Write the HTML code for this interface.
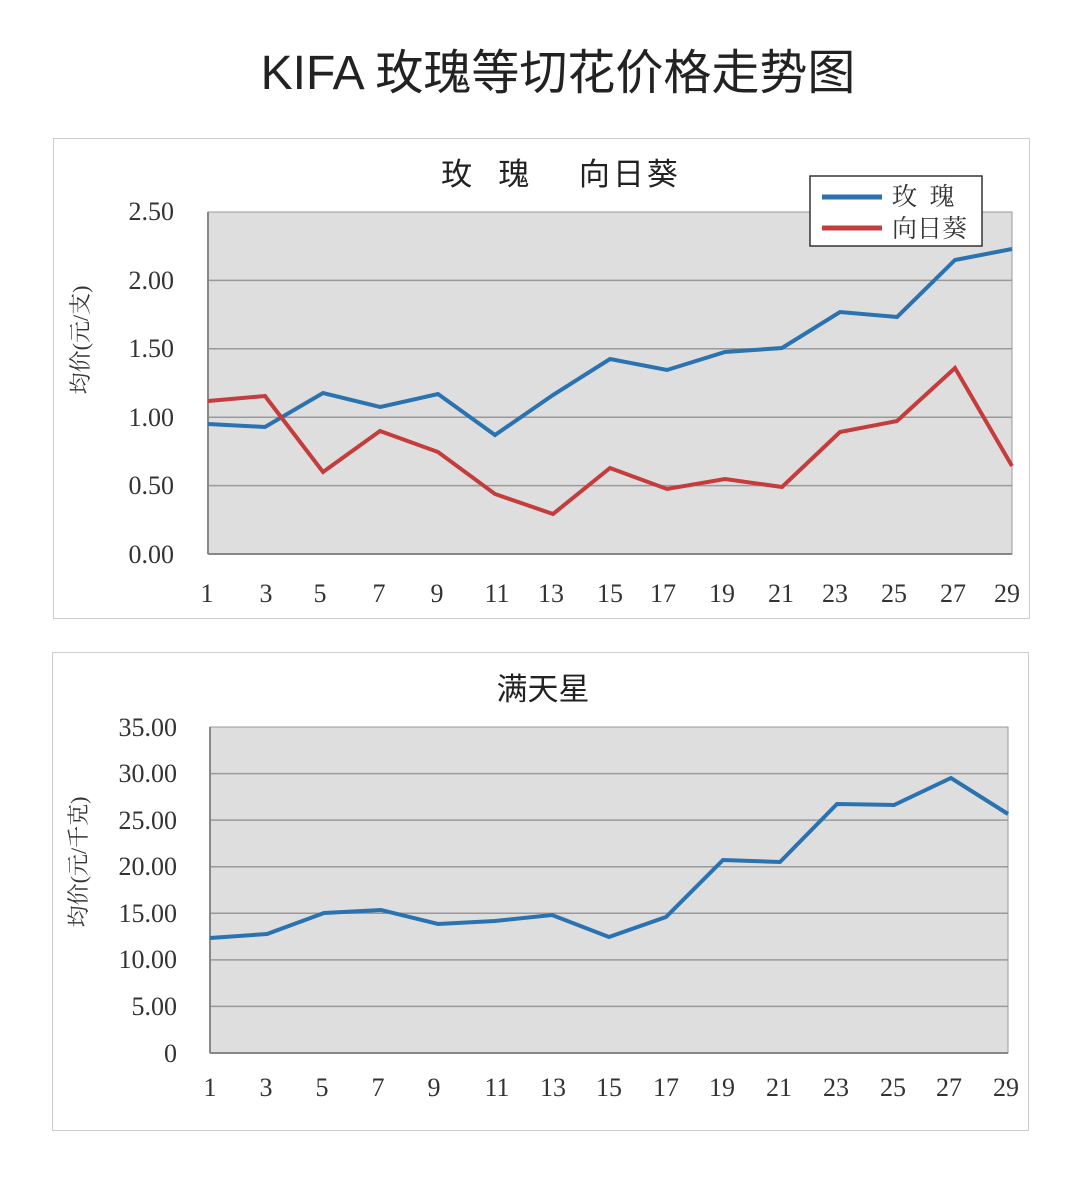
<!DOCTYPE html>
<html><head><meta charset="utf-8"><style>
body{margin:0;background:#fff;}
svg{display:block;}
.t{font-family:"Liberation Serif","Noto Serif CJK SC",serif;fill:#333;}
.s{font-family:"Liberation Sans","Noto Sans CJK SC",sans-serif;fill:#222;}
</style></head><body>
<svg width="1080" height="1177" viewBox="0 0 1080 1177" xmlns="http://www.w3.org/2000/svg">
<text x="558" y="89" text-anchor="middle" class="s" font-size="48">KIFA 玫瑰等切花价格走势图</text>

<!-- chart 1 -->
<rect x="53.5" y="138.5" width="976" height="480" fill="#fff" stroke="#ccc"/>
<text x="561" y="185" text-anchor="middle" class="s" font-size="31" letter-spacing="3" xml:space="preserve">玫  瑰    向日葵</text>
<rect x="208" y="212" width="804" height="342" fill="#dedede" stroke="#999"/>
<g stroke="#999" stroke-width="1.5">
<line x1="208" x2="1012" y1="280.4" y2="280.4"/><line x1="208" x2="1012" y1="348.8" y2="348.8"/>
<line x1="208" x2="1012" y1="417.2" y2="417.2"/><line x1="208" x2="1012" y1="485.6" y2="485.6"/>
<line x1="208" x2="208" y1="212" y2="554" stroke="#888" stroke-width="2"/>
<line x1="208" x2="1012" y1="554" y2="554" stroke="#888" stroke-width="2"/>
</g>
<g class="t" font-size="26" text-anchor="end">
<text x="174" y="220">2.50</text><text x="174" y="289">2.00</text><text x="174" y="357">1.50</text>
<text x="174" y="426">1.00</text><text x="174" y="494">0.50</text><text x="174" y="563">0.00</text>
</g>
<text transform="translate(88,340) rotate(-90)" text-anchor="middle" class="t" font-size="22" fill="#555">均价(元/支)</text>
<g class="t" font-size="26" text-anchor="middle">
<text x="207" y="602">1</text><text x="266" y="602">3</text><text x="320" y="602">5</text><text x="379" y="602">7</text><text x="437" y="602">9</text><text x="497" y="602">11</text><text x="551" y="602">13</text><text x="610" y="602">15</text><text x="663" y="602">17</text><text x="722" y="602">19</text><text x="781" y="602">21</text><text x="835" y="602">23</text><text x="894" y="602">25</text><text x="953" y="602">27</text><text x="1007" y="602">29</text>
</g>
<polyline fill="none" stroke="#2b72b0" stroke-width="4" points="208,424 265,427 323,393 380,407 438,394 495,435 553,395 610,359 667,370 725,352 782,348 840,312 897,317 955,260 1012,249"/>
<polyline fill="none" stroke="#c43c3c" stroke-width="4" points="208,401 265,396 323,472 380,431 438,452 495,494 553,514 610,468 667,489 725,479 782,487 840,432 897,421 955,368 1012,466"/>
<rect x="810" y="176" width="172" height="70" fill="#fff" stroke="#333" stroke-width="1.5"/>
<line x1="822" x2="882" y1="197" y2="197" stroke="#2b72b0" stroke-width="5"/>
<line x1="822" x2="882" y1="228" y2="228" stroke="#c43c3c" stroke-width="5"/>
<text x="892" y="205" class="t" font-size="25" xml:space="preserve">玫  瑰</text>
<text x="892" y="237" class="t" font-size="25">向日葵</text>

<!-- chart 2 -->
<rect x="52.5" y="652.5" width="976" height="478" fill="#fff" stroke="#ccc"/>
<text x="543" y="700" text-anchor="middle" class="s" font-size="31">满天星</text>
<rect x="210" y="727" width="798" height="326" fill="#dedede" stroke="#999"/>
<g stroke="#999" stroke-width="1.5">
<line x1="210" x2="1008" y1="773.6" y2="773.6"/><line x1="210" x2="1008" y1="820.1" y2="820.1"/>
<line x1="210" x2="1008" y1="866.7" y2="866.7"/><line x1="210" x2="1008" y1="913.3" y2="913.3"/>
<line x1="210" x2="1008" y1="959.9" y2="959.9"/><line x1="210" x2="1008" y1="1006.4" y2="1006.4"/>
<line x1="210" x2="210" y1="727" y2="1053" stroke="#888" stroke-width="2"/>
<line x1="210" x2="1008" y1="1053" y2="1053" stroke="#888" stroke-width="2"/>
</g>
<g class="t" font-size="26" text-anchor="end">
<text x="177" y="736">35.00</text><text x="177" y="782">30.00</text><text x="177" y="829">25.00</text>
<text x="177" y="875">20.00</text><text x="177" y="922">15.00</text><text x="177" y="968">10.00</text>
<text x="177" y="1015">5.00</text><text x="177" y="1062">0</text>
</g>
<text transform="translate(86,862) rotate(-90)" text-anchor="middle" class="t" font-size="22" fill="#555">均价(元/千克)</text>
<g class="t" font-size="26" text-anchor="middle">
<text x="210" y="1096">1</text><text x="266" y="1096">3</text><text x="322" y="1096">5</text><text x="378" y="1096">7</text><text x="434" y="1096">9</text><text x="497" y="1096">11</text><text x="553" y="1096">13</text><text x="609" y="1096">15</text><text x="666" y="1096">17</text><text x="722" y="1096">19</text><text x="779" y="1096">21</text><text x="836" y="1096">23</text><text x="893" y="1096">25</text><text x="949" y="1096">27</text><text x="1006" y="1096">29</text>
</g>
<polyline fill="none" stroke="#2b72b0" stroke-width="4" points="210,938 267,934 324,913 381,910 438,924 495,921 552,915 609,937 666,917 723,860 780,862 837,804 894,805 951,778 1008,814"/>
</svg>
</body></html>
